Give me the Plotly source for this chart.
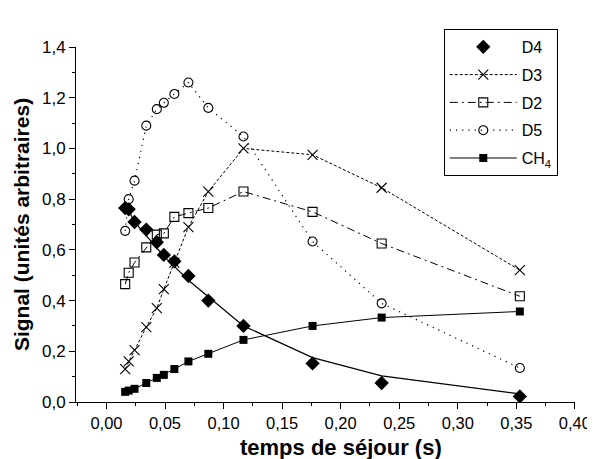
import plotly.graph_objects as go

# residence time (s)
temps = [0.016, 0.019, 0.024, 0.034, 0.043, 0.049, 0.058, 0.070, 0.087, 0.117, 0.176, 0.235, 0.353]

d4 = [0.765, 0.76, 0.71, 0.68, 0.63, 0.58, 0.555, 0.497, 0.40, 0.30, 0.152, 0.075, 0.022]
d4_fit = [0.775, 0.755, 0.71, 0.655, 0.605, 0.575, 0.535, 0.48, 0.415, 0.30, 0.175, 0.103, 0.032]
d3 = [0.13, 0.16, 0.205, 0.295, 0.37, 0.445, 0.55, 0.69, 0.83, 1.00, 0.975, 0.845, 0.52]
d2 = [0.465, 0.51, 0.55, 0.61, 0.66, 0.665, 0.73, 0.745, 0.765, 0.83, 0.75, 0.625, 0.417]
d5 = [0.675, 0.80, 0.873, 1.09, 1.155, 1.18, 1.215, 1.26, 1.16, 1.047, 0.633, 0.389, 0.134]
ch4 = [0.04, 0.045, 0.052, 0.075, 0.095, 0.107, 0.13, 0.16, 0.19, 0.245, 0.30, 0.333, 0.357]

names = ["D4", "D3", "D2", "D5", "CH<sub>4</sub>"]
x_title = "<b>temps de séjour (s)</b>"
y_title = "<b>Signal (unités arbitraires)</b>"

FONT = "Liberation Sans, Arial, sans-serif"
BLACK = "#000000"

fig = go.Figure()

fig.add_trace(go.Scatter(
    x=temps, y=d4_fit, mode="lines", showlegend=False,
    line=dict(color=BLACK, width=1.2)))

fig.add_trace(go.Scatter(
    x=temps, y=d4, mode="markers", name=names[0], legendgroup="g1",
    marker=dict(symbol="diamond", size=11, color=BLACK)))

fig.add_trace(go.Scatter(
    x=temps, y=d3, mode="lines+markers", name=names[1], legendgroup="g2",
    line=dict(color=BLACK, width=1, dash="3px,2px"),
    marker=dict(symbol="x-thin-open", size=10, color=BLACK,
                line=dict(color=BLACK, width=1.1))))

fig.add_trace(go.Scatter(
    x=temps, y=d2, mode="lines+markers", name=names[2], legendgroup="g3",
    line=dict(color=BLACK, width=1, dash="8px,4px,2px,4px"),
    marker=dict(symbol="square-open", size=9, color=BLACK,
                line=dict(color=BLACK, width=1.1))))

fig.add_trace(go.Scatter(
    x=temps, y=d5, mode="lines+markers", name=names[3], legendgroup="g4",
    line=dict(color=BLACK, width=1.2, dash="1.2px,5px"),
    marker=dict(symbol="circle-open", size=9, color=BLACK,
                line=dict(color=BLACK, width=1.1))))

fig.add_trace(go.Scatter(
    x=temps, y=ch4, mode="lines+markers", name=names[4], legendgroup="g5",
    line=dict(color=BLACK, width=1),
    marker=dict(symbol="square", size=8, color=BLACK)))

# the page body has an 8px default margin, so the figure is 8px smaller
fig.update_layout(
    width=587, height=451,
    margin=dict(l=68, r=20, t=39, b=57, autoexpand=False),
    paper_bgcolor="white", plot_bgcolor="white",
    separators=", ",
    font=dict(family=FONT, color=BLACK, size=17),
    legend=dict(
        x=0.737, y=1.051, xanchor="left", yanchor="top",
        bordercolor=BLACK, borderwidth=1, bgcolor="white",
        font=dict(size=16, family=FONT, color=BLACK),
        traceorder="grouped", tracegroupgap=4,
        itemwidth=67,
    ),
    annotations=[dict(
        text=x_title, xref="x", yref="paper", x=0.2, y=-0.128,
        xanchor="center", yanchor="middle", showarrow=False,
        font=dict(size=22, family=FONT, color=BLACK),
    )],
)

fig.update_xaxes(
    range=[-0.026, 0.4001], tick0=0, dtick=0.05, tickformat=".2f",
    showline=True, linecolor=BLACK, linewidth=1, showgrid=False, zeroline=False,
    ticks="outside", ticklen=6, tickwidth=1, tickcolor=BLACK,
    minor=dict(ticks="outside", ticklen=3, tick0=0, dtick=0.025, tickcolor=BLACK, showgrid=False),
    tickfont=dict(size=16.5),
    automargin=False,
)
fig.update_yaxes(
    range=[0, 1.4001], tick0=0, dtick=0.2, tickformat=".1f",
    showline=True, linecolor=BLACK, linewidth=1, showgrid=False, zeroline=False,
    ticks="outside", ticklen=6, tickwidth=1, tickcolor=BLACK,
    minor=dict(ticks="outside", ticklen=3, tick0=0, dtick=0.1, tickcolor=BLACK, showgrid=False),
    tickfont=dict(size=17),
    automargin=False,
    title=dict(text=y_title, font=dict(size=21), standoff=6),
)

fig.write_html("out.html")
